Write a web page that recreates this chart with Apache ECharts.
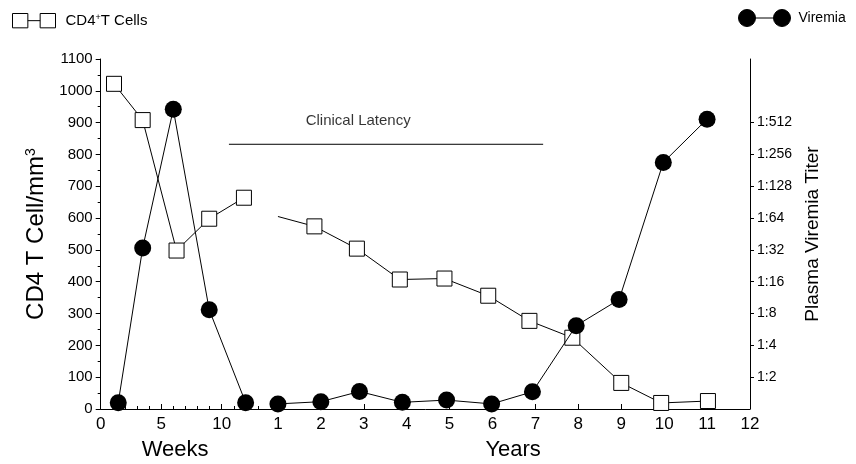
<!DOCTYPE html>
<html><head><meta charset="utf-8">
<script src="https://cdn.jsdelivr.net/npm/echarts@6/dist/echarts.min.js"></script>
<style>html,body{margin:0;padding:0;background:#fff}#c{width:856px;height:464px}</style>
</head><body><div id="c"></div>
<script>
// ---- data ----
const weekTicks = [0, 5, 10];
const weekMinorTicks = [1, 2, 3, 4, 6, 7, 8, 9, 11, 12, 13];
const yearTicks = [1, 2, 3, 4, 5, 6, 7, 8, 9, 10, 11, 12];
const titerTicks = [1, 2, 3, 4, 5, 6, 7, 8, 9]; // log2 of titer denominator

const cd4Weeks = [1.1, 3.47, 6.27, 8.97, 11.84];
const cd4WeekValues = [1022, 908, 498, 598, 664];
const cd4Years = [1.0, 1.85, 2.84, 3.84, 4.88, 5.9, 6.86, 7.86, 9.0, 9.93, 11.02];
const cd4YearValues = [605, 574, 504, 407, 410, 356, 277, 224, 82, 19, 25];

const viremiaWeeks = [1.45, 3.47, 6.0, 8.97, 11.98];
const viremiaWeekValues = [0.2, 5.06, 9.42, 3.12, 0.2];
const viremiaYears = [1.0, 2.0, 2.9, 3.9, 4.93, 5.98, 6.93, 7.95, 8.95, 9.98, 11.0];
const viremiaYearValues = [0.16, 0.23, 0.55, 0.21, 0.28, 0.16, 0.54, 2.62, 3.44, 7.75, 9.11];

const latencyStartWeek = 10.6;
const latencyEndYear = 7.18;
const latencyLevel = 832;
const latencyLabelYear = 2.87;

// ---- scale mapping: weeks and years share one axis ----
const WEEK_TO_U = 0.2819;
const YEAR_OFFSET = 3.13;
const wk = w => w * WEEK_TO_U;
const yr = y => y + YEAR_OFFSET;

const tickPos = weekTicks.map(wk).concat(yearTicks.map(yr));
const tickLab = weekTicks.concat(yearTicks).map(String);
const FONT = '"Liberation Sans", Arial, Helvetica, sans-serif';
const BLACK_LINE = {color: '#000', width: 1, type: 'solid'};

const chart = echarts.init(document.getElementById('c'), null, {renderer: 'canvas'});

const cd4Style = {
  type: 'line', name: 'CD4+T Cells', symbol: 'rect', symbolSize: 15,
  itemStyle: {color: '#fff', borderColor: '#000', borderWidth: 1},
  lineStyle: {color: '#000', width: 1}, z: 2, silent: true
};
const virStyle = {
  type: 'line', name: 'Viremia', symbol: 'circle', symbolSize: 17, yAxisIndex: 1,
  itemStyle: {color: '#000', borderColor: '#000', borderWidth: 0},
  lineStyle: {color: '#000', width: 1}, z: 3, silent: true
};

chart.setOption({
  animation: false,
  backgroundColor: '#fff',
  textStyle: {fontFamily: FONT, color: '#000'},
  grid: {left: 100.7, right: 106, top: 59, bottom: 55},
  legend: [
    {
      data: ['CD4+T Cells'], left: 7, top: 8, itemWidth: 43, itemHeight: 15,
      icon: 'path://M0.5,0.5H15.5V14.5H0.5Z M15.5,7.5H27.5 M27.5,0.5H42.5V14.5H27.5Z',
      itemStyle: {color: '#fff', borderColor: '#000', borderWidth: 1},
      formatter: () => 'CD4{sup|+}T Cells',
      textStyle: {fontFamily: FONT, fontSize: 15, color: '#000', padding: [0, 0, 0, 5],
        rich: {sup: {fontFamily: FONT, fontSize: 9, verticalAlign: 'top', color: '#000'}}}
    },
    {
      data: ['Viremia'], left: 733, top: 4, itemWidth: 52, itemHeight: 17,
      icon: 'path://M0,8.5A8.5,8.5 0 1 1 17,8.5A8.5,8.5 0 1 1 0,8.5Z M17,8.5H35 M35,8.5A8.5,8.5 0 1 1 52,8.5A8.5,8.5 0 1 1 35,8.5Z',
      itemStyle: {color: '#000', borderColor: '#000', borderWidth: 1},
      textStyle: {fontFamily: FONT, fontSize: 14, color: '#000', padding: [0, 0, 0, 3]}
    }
  ],
  xAxis: [
    {
      type: 'value', min: 0, max: yr(12), position: 'bottom',
      axisLine: {show: true, onZero: false, lineStyle: BLACK_LINE},
      axisTick: {show: true, inside: true, length: 5, customValues: tickPos, lineStyle: BLACK_LINE},
      axisLabel: {show: true, customValues: tickPos, fontSize: 17, color: '#000', margin: 7, fontFamily: FONT,
        formatter: v => { const i = tickPos.findIndex(p => Math.abs(p - v) < 1e-6); return i >= 0 ? tickLab[i] : ''; }},
      splitLine: {show: false}
    },
    {
      type: 'value', min: 0, max: yr(12), position: 'bottom',
      axisLine: {show: false, onZero: false}, axisTick: {show: false}, splitLine: {show: false},
      axisLabel: {show: true, customValues: [wk(6.15), yr(6.48)], fontSize: 22, color: '#000', margin: 30, fontFamily: FONT,
        formatter: v => (v < yr(0) ? 'Weeks' : 'Years')}
    },
    {
      type: 'value', min: 0, max: yr(12), position: 'bottom',
      axisLine: {show: false, onZero: false}, splitLine: {show: false}, axisLabel: {show: false},
      axisTick: {show: true, inside: true, length: 3, customValues: weekMinorTicks.map(wk), lineStyle: BLACK_LINE}
    }
  ],
  yAxis: [
    {
      type: 'value', min: 0, max: 1100, interval: 100, position: 'left',
      name: 'CD4 T Cell/mm{sup|3}', nameLocation: 'middle', nameGap: 41,
      nameTextStyle: {fontFamily: FONT, fontSize: 24, color: '#000',
        rich: {sup: {fontFamily: FONT, fontSize: 14, verticalAlign: 'top', color: '#000'}}},
      axisLine: {show: true, onZero: false, lineStyle: BLACK_LINE},
      axisTick: {show: true, length: 5, lineStyle: BLACK_LINE},
      minorTick: {show: true, splitNumber: 2, length: 3, lineStyle: BLACK_LINE},
      axisLabel: {fontSize: 15, color: '#000', margin: 8, fontFamily: FONT, formatter: v => String(v)},
      splitLine: {show: false}
    },
    {
      type: 'value', min: 0, max: 11, interval: 1, position: 'right',
      name: 'Plasma Viremia Titer', nameLocation: 'middle', nameGap: 53,
      nameTextStyle: {fontFamily: FONT, fontSize: 19, color: '#000'},
      axisLine: {show: true, onZero: false, lineStyle: BLACK_LINE},
      axisTick: {show: true, length: 4, customValues: titerTicks, lineStyle: BLACK_LINE},
      axisLabel: {fontSize: 14, color: '#000', margin: 7, fontFamily: FONT, customValues: titerTicks,
        formatter: v => '1:' + Math.pow(2, Math.round(v))},
      splitLine: {show: false}
    }
  ],
  series: [
    Object.assign({}, cd4Style, {data: cd4Weeks.map((w, i) => [wk(w), cd4WeekValues[i]])}),
    Object.assign({}, cd4Style, {data: cd4Years.map((y, i) => i === 0
      ? {value: [yr(y), cd4YearValues[i]], symbol: 'none'}
      : [yr(y), cd4YearValues[i]])}),
    Object.assign({}, virStyle, {data: viremiaWeeks.map((w, i) => [wk(w), viremiaWeekValues[i]])}),
    Object.assign({}, virStyle, {data: viremiaYears.map((y, i) => [yr(y), viremiaYearValues[i]])}),
    {
      type: 'line', name: 'latency', symbol: 'none', silent: true,
      lineStyle: {color: '#000', width: 1},
      data: [[wk(latencyStartWeek), latencyLevel], [yr(latencyEndYear), latencyLevel]]
    },
    {
      type: 'scatter', name: 'latencyLabel', symbolSize: 1, silent: true,
      itemStyle: {color: 'rgba(0,0,0,0)'},
      label: {show: true, position: 'top', distance: 15, formatter: 'Clinical Latency',
        fontSize: 15, color: '#000', fontFamily: FONT},
      data: [[yr(latencyLabelYear), latencyLevel]]
    }
  ]
});
</script></body></html>
